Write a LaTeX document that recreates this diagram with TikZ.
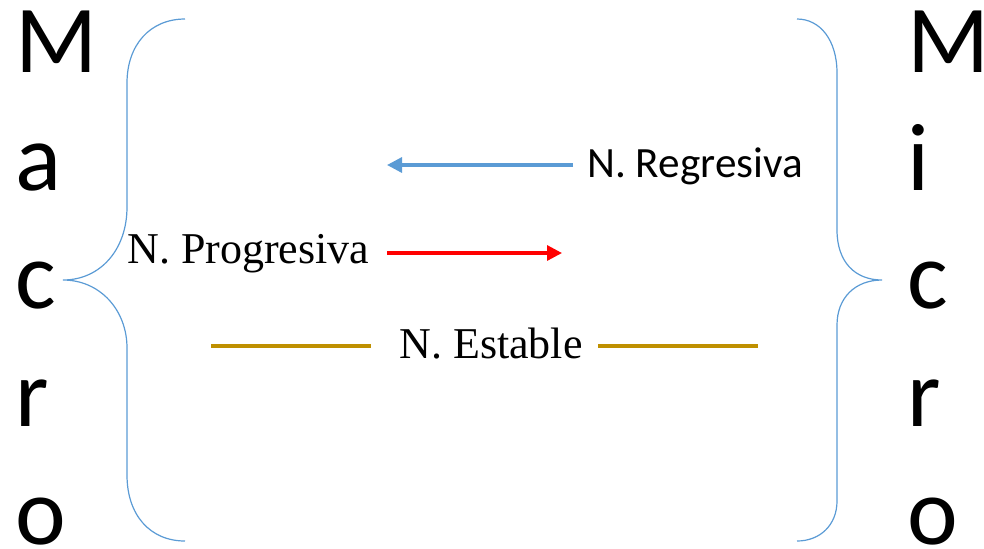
\documentclass[tikz,border=0pt]{standalone}
\usepackage{fontspec}
\setmainfont{Liberation Serif}
\newfontfamily\calibfont{Carlito}
\usetikzlibrary{arrows.meta}
\definecolor{accblue}{HTML}{5B9BD5}
\definecolor{accgold}{HTML}{BF9000}

\begin{document}
\begin{tikzpicture}[x=0.5pt, y=-0.5pt,
		letter/.style={anchor=base west, inner sep=0pt, font=\calibfont\fontsize{48}{48}\selectfont},
		label/.style={anchor=base west, inner sep=0pt, font=\fontsize{22}{26}\selectfont},
		brace/.style={accblue, line width=0.6pt},
		levelarrow/.style={line width=1.6pt, -{Triangle[length=7.5pt, width=7.5pt]}}]
		\useasboundingbox (0,0) rectangle (984,548);
		
		% vertical words on both sides
		\foreach \l [count=\i] in {M,a,c,r,o}{
			\node[letter] (macro\i) at (15,{72+118*(\i-1)}) {\l};
		}
		\foreach \l [count=\i] in {M,i,c,r,o}{
			\node[letter] (micro\i) at (907,{72+118*(\i-1)}) {\l};
		}
		
		% braces
		\draw[brace] (185,19) .. controls (150,19) and (127,45) .. (127,83) -- (127,207)
			.. controls (127,250) and (100,280) .. (63,280)
			.. controls (100,280) and (127,310) .. (127,348) -- (127,475)
			.. controls (127,515) and (150,541) .. (185,541);
		\draw[brace] (797,19) .. controls (820,19) and (837,40) .. (837,73) -- (837,230)
			.. controls (837,262) and (855,280) .. (882,280)
			.. controls (855,280) and (837,298) .. (837,325) -- (837,501)
			.. controls (837,525) and (820,541) .. (797,541);
		
		% levels
		\node[label, font=\calibfont\fontsize{21.6}{26}\selectfont] (regresiva) at (587,177) {N. Regresiva};
		\node[label] (progresiva) at (127,263) {N. Progresiva};
		\node[label] (estable) at (399,358) {N. Estable};
		
		\coordinate (regA) at (573,165);
		\coordinate (regB) at (387,165);
		\coordinate (proA) at (387,253);
		\coordinate (proB) at (562,253);
		\coordinate (estA) at (211,346);
		\coordinate (estB) at (371,346);
		\coordinate (estC) at (598,346);
		\coordinate (estD) at (758,346);
		
		\draw[levelarrow, accblue] (regA) -- (regB);
		\draw[levelarrow, red] (proA) -- (proB);
		\draw[accgold, line width=2pt] (estA) -- (estB) (estC) -- (estD);
\end{tikzpicture}
\end{document}
